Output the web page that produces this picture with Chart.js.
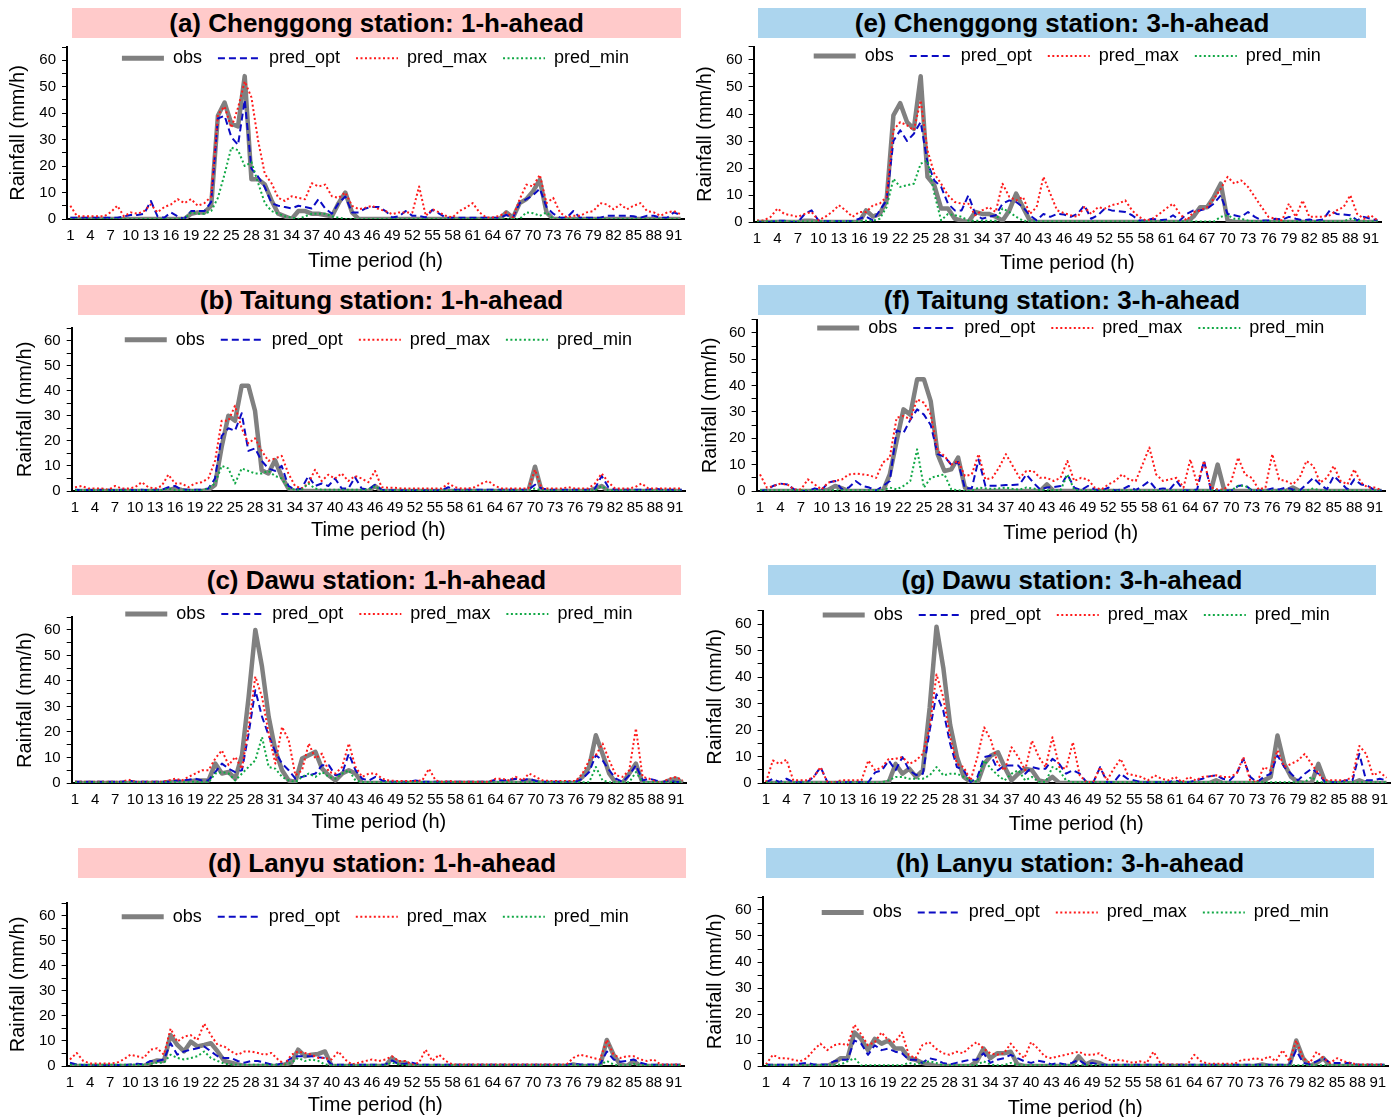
<!DOCTYPE html>
<html>
<head>
<meta charset="utf-8">
<title>Rainfall forecasts</title>
<script src="https://cdn.jsdelivr.net/npm/chart.js@4.4.1/dist/chart.umd.min.js"></script>
<style>
  body { margin: 0; background: #fff; }
  #page { position: relative; width: 1400px; height: 1117px; overflow: hidden; background: #fff; }
  .bar { position: absolute; height: 30px; line-height: 31px; text-align: center; font: bold 26px "Liberation Sans", Arial, sans-serif; color: #000; white-space: nowrap; }
  .pink { background: #ffcaca; }
  .blue { background: #acd5ee; }
  canvas { position: absolute; }
</style>
</head>
<body>
<div id="page">
  <div class="bar pink" style="left:72px;top:8px;width:609px">(a) Chenggong station: 1-h-ahead</div>
  <div class="bar blue" style="left:758px;top:8px;width:608px">(e) Chenggong station: 3-h-ahead</div>
  <div class="bar pink" style="left:78px;top:285px;width:607px">(b) Taitung station: 1-h-ahead</div>
  <div class="bar blue" style="left:758px;top:285px;width:608px">(f) Taitung station: 3-h-ahead</div>
  <div class="bar pink" style="left:72px;top:565px;width:609px">(c) Dawu station: 1-h-ahead</div>
  <div class="bar blue" style="left:768px;top:565px;width:608px">(g) Dawu station: 3-h-ahead</div>
  <div class="bar pink" style="left:78px;top:848px;width:608px">(d) Lanyu station: 1-h-ahead</div>
  <div class="bar blue" style="left:766px;top:848px;width:608px">(h) Lanyu station: 3-h-ahead</div>
  <canvas id="chartA"></canvas>
  <canvas id="chartE"></canvas>
  <canvas id="chartB"></canvas>
  <canvas id="chartF"></canvas>
  <canvas id="chartC"></canvas>
  <canvas id="chartG"></canvas>
  <canvas id="chartD"></canvas>
  <canvas id="chartH"></canvas>
</div>
<script>
// time periods 1..92
const hours = Array.from({length: 92}, (_, i) => String(i + 1));

// (a) Chenggong 1-h-ahead
const obsA = [0,0,0,0,0,0,0,0,0,0, 0,0,0,0,0,0,0,0,2,2.5, 2.5,5,39,44,36,35,54,15,15,13, 7,2,1,0,3,3,2,2,1.5,1,
  6,10,2.5,0,0,0,0,0,0,0, 0,0,0,0,0,0,0,0,0,0, 0,0,0,0,0,2.5,0.5,6,7.5,10.5, 14.8,2.5,0,0,0,0,0,0,0,0, 0,0,0,0,0,0,0,0,0,0, 0,0];
const optA = [0.5,0.5,0.5,0.5,0.5,0.5,0.5,0.5,1,1.5, 1.5,2,6.8,1,0.5,2.5,1,0,3,3, 3,6.5,38,39,31,28,45,19,16,12, 6,5,4.5,4,5,4.5,4,7.5,4,2,
  6,8.5,2.5,2.5,4,4.5,4.5,3,0.6,1, 3,1.2,1.2,0.6,3.5,2,0.5,0.5,0.5,0.5, 0.5,0.5,0.5,0.5,0.5,1.5,0.5,6,7.5,9, 11.5,4.5,2,0.5,0.5,3,0.5,0.5,0.5,0.5, 1.2,1.2,1.2,1.2,1,0.5,1.2,1.2,0.5,0.5, 2.5,1.5];
const maxA = [5,1,1,1,1,1,2.5,5,1,2.5, 2,3,5.5,2.5,4.5,5.5,7.5,6,7.5,5, 6,8.5,39.5,42.5,34.5,42,52,46,29.6,17, 13.5,8,6.8,8.6,8,7.5,13.5,12.3,13,8.6,
  8,10,5,3.7,4.3,5,3.7,3,1.8,2.5, 2.5,2.5,12.3,1.2,3.7,2.5,1.2,0.6,3,4.3, 6,2.5,0.6,0.6,1.2,2.5,0.6,7.5,13,12.3, 16.7,6,8,2.5,0.6,1.2,1.2,2.5,3,6, 5.5,3.7,5.5,3.7,5,6,3,2.5,1.2,2.5, 3,1.8];
const minA = [0,0,0,0,0,0,0,0,0,0, 0,0,0,0,0,0,0,0,2.5,2, 2,3,8,17,27,26,20,21.5,13.6,6, 3,2,1,0.5,0,1,2,2,2,1,
  0.5,0,0,0,0,0,0,0,0,0, 0,0,0,0,0,0,0,0,0,0, 0,0,0,0,0,0,0,0,2.5,2.2, 1.2,2.5,0,0,0,0,0,0,0,0, 0,0,0,0,0,0,0,0,0,0, 0,0];

// (e) Chenggong 3-h-ahead
const obsE = [0,0,0,0,0,0,0,0.5,0.5,0, 0,0,0,0,0,0,4.3,2,3,8, 39.5,44,37,34.5,54,16.7,13.6,5,5,1.2, 0.5,0,3.7,3,3,2,0.5,4.3,10.5,5.5,
  0.6,0,0,0,0,0,0,0,0,0, 0,0,0,0,0,0,0,0,0,0, 0,0,0,0,2,5.5,5.5,9.3,14.2,0.6, 0,0,0,0,0,0,0,0,0,0, 0,0,0,0,0,0,0,0,0,0, 0,0];
const optE = [0,0,0,0.5,0.5,0,0,3,4.3,0.6, 0.3,0.3,0.3,0.3,0.3,1.2,2,0.6,4.3,8, 30,34,30,32.7,37,22,15.4,13,6.8,4.3, 4.3,9.9,3,1.2,1.9,2.5,6.8,8,7.4,5.5,
  2.5,0.6,3,1.9,3,2.8,1.9,3,6.2,1.2, 2.5,5,4.3,4,3.7,2.5,0.6,0.6,1.2,0.6, 0.9,2.5,0.6,3,4.3,4.3,5,6.8,9.9,3, 2.5,1.9,3.7,1.9,0.6,0.6,1.2,0.9,1.9,1.2, 0.6,0.9,0.6,0.9,4.3,3,2.8,2.5,0.6,1.9, 1.2,0.6];
const maxE = [0.6,0.6,1.9,5,3,2.5,1.9,3,3.7,0.6, 1.9,3.7,6.2,4.3,1.9,3.7,3.7,6.2,6.8,9.3, 34,37,35.8,34,45,26.5,17.9,14.2,9.9,7.4, 6.8,6.8,2.5,4.3,5.5,3.7,14.2,9.3,8,9.3,
  3,5.5,16.7,10.5,4.3,3.3,2.5,1.9,5.5,3, 5.5,5,6.2,6.8,8,4.3,1.9,0.6,1.2,3, 5,6.8,3,0.6,3.7,4.3,5.5,8.6,12.3,16.7, 14.2,15.4,13,9.3,5.5,1.9,1.2,0.6,6.8,1.9, 8,1.9,1.9,1.9,2.5,4.3,5.5,9.9,3,1.2, 2.5,0.6];
const minE = [0.2,0.2,0.2,0.2,0.2,0.2,0.2,0.2,0.2,0.2, 0.2,0.2,0.2,0.2,0.2,0.2,0.5,0.5,1.2,5.5, 16,13,13.6,14.2,21.6,22.8,10.5,0.6,3,2.5, 1.9,0.5,0.5,0.5,0.5,0.5,5,3.7,1.9,0.5,
  0.2,0.2,0.2,0.2,0.2,0.2,0.2,0.2,0.2,0.2, 0.2,0.2,0.2,0.2,0.2,0.2,0.2,0.2,0.2,0.2, 0.2,0.2,0.2,0.2,0.2,0.2,0.2,0.2,1.9,2.5, 1.2,1.2,0.5,0.2,0.2,0.2,0.2,0.2,0.2,0.2, 0.2,0.2,0.2,0.2,0.2,0.2,0.2,1.2,0.5,0.2, 0.2,0.2];

// (b) Taitung 1-h-ahead
const obsB = [0,0,0,0,0,0,0,0,0,0, 0,0,0,0,0.4,1,0.4,0,0,0, 0.4,2.4,17.6,30,28,42,42,32,8.3,7, 12.3,5.7,1,0,0,0,0,0,0,0,
  0,0,0,0,0,2,0,0,0,0, 0,0,0,0,0,0,0,0,0,0, 0,0,0,0,0,0,0,0,0,9.7, 0,0,0,0,0,0,0,0,1,2, 0,0,0,0,0,0,0,0,0,0, 0,0];
const optB = [0.5,0.3,0.5,0.3,0.5,0.5,0.3,0.5,0.5,0.3, 0.5,0.3,0.5,0.5,1.5,2,0.5,0.5,0.5,0.5, 1,5,22,25,24,31,16,17,12,9, 8,10,2,0.5,1,6,2,3,2,5,
  1,1,5.5,1,0.5,2.5,0.5,0.3,0.3,0.3, 0.3,0.3,0.3,0.3,0.3,0.3,1.5,0.5,0.5,0.5, 0.5,0.5,0.5,0.5,0.5,0.5,0.5,0.5,0.5,2.5, 1,0.5,0.5,0.5,0.5,0.5,0.5,0.5,1,6, 1.5,0.5,0.5,0.5,0.5,0.5,0.5,1,0.5,0.5, 0.5,0.5];
const maxB = [1.5,2,1,1,1,0.5,2,1,1,1.5, 3.5,1.5,1,2,6.5,3,3,1.5,3,3.5, 5,12,28,28,34,25,19,21,16,12, 13,14,7,2,1,3,8.5,4,6.5,5,
  7,4,6,5,3.5,8,1.5,1.3,1.3,1, 1,1,1,1,1,1,3,1.5,1,1, 1.5,3,4,2,1,1,1,1,1,8.5, 1,1,1,1,1.5,1,1,1,3,7, 3.5,1,1,1,1.5,3,1,1,1,1, 1,1];
const minB = [0.3,0.3,0.3,0.3,0.3,0.3,0.3,0.3,0.3,0.3, 0.3,0.3,0.3,0.3,1,0.3,0.3,0.3,0.3,0.3, 1,3,10,9,3,9,8,7,7,8, 6,5,1,0.5,0.5,3,1,0.5,0.5,0.5,
  0.5,0.5,0.5,0.5,0.5,2,0.2,0.2,0.2,0.2, 0.2,0.2,0.2,0.2,0.2,0.2,0.2,0.2,0.2,0.2, 0.2,0.2,0.2,0.2,0.2,0.2,0.2,0.2,0.2,1, 0.2,0.2,0.2,0.2,0.2,0.2,0.2,0.2,0.2,2, 0.2,0.2,0.2,0.2,0.2,0.2,0.2,0.2,0.2,0.2, 0.2,0.2];

// (f) Taitung 3-h-ahead
const obsF = [0,0,0,0,0,0,0,0,0,0, 0.5,1.9,1,0,0,0,0,0,0,6.3, 19,31,29,42.4,42.4,34,14,7.6,8.2,12.7, 1.3,0,0,0,0,0,0,0,0,0,
  0,0,2.5,0,0,0,0,0,0,0, 0,0,0,0,0,0,0,0,0,0, 0,0,0,0,0,0,0,10,0,0, 0,0,0,0,0,0,0,0,1.3,0, 0,0,0,0,0,0,0,0,0,0, 0,0];
const optF = [0,0.5,2,2.8,2.5,0.6,0,0,1,0.3, 3.2,3.8,0.6,1.3,3.8,1.9,1.3,0.2,1.9,3.8, 23,22,27,31,29,25,14,13,10,11, 1,1,12,1.9,2,2,2.3,2.3,2.5,6.3,
  3.2,0.6,1.3,1.5,1.9,6.3,1.3,0.3,1.9,0.6, 0.2,1.3,0.2,0.6,1.9,0.3,1.9,3.8,0.6,1, 0.6,3.8,0.3,0.2,0.6,11.4,0.6,0.3,0.2,0.2, 1.9,2.3,0.3,0.2,0.2,1,0.6,1.3,0.6,0.2, 2.5,5,2.5,0.6,5.7,3.2,0.6,4.4,2.5,1.9, 0.3,0.2];
const maxF = [6.3,1.3,1.9,2.8,2.5,0.6,0.6,4.4,2.5,0.6, 3.2,3.8,4.4,6.3,6.6,6.3,6,5,10.8,12.7, 27.8,28.5,27.2,34.8,33.5,29,15.2,13.3,10,11.4, 5.7,6.3,14,4.4,5,8.9,14,9.5,5,7.6,
  7.6,5,5,3.8,5,11.4,3.8,5,4.4,1.3, 0.6,2.5,3.8,6.3,4.4,3.8,10,16.5,6.3,3.8, 4.4,5,1.3,12,2.5,11.4,1.3,0.6,0.6,3.8, 12.7,6.3,5,0.6,1.3,14,4.4,3.8,2.5,5, 11.4,9.5,3.2,5,9.5,3.8,2.5,8.2,3.2,1.3, 1.3,0.3];
const minF = [0.3,0.3,0.3,0.3,0.3,0.3,0.3,0.3,0.3,0.3, 0.3,0.3,0.3,0.3,0.3,0.3,0.3,0.3,0.3,1.3, 0.6,1.9,3.8,15.8,1.3,5,5.7,6.3,0.6,0.3, 0,0,1.3,1,0.8,1,1.3,0.8,0.5,1.3,
  1,0.3,0.3,0.3,0.3,6.3,0.5,0.2,0.2,0.2, 0.2,0.2,0.2,0.2,0.2,0.2,0.2,0.2,0.2,0.2, 0.2,0.2,0.2,0.2,0.2,0.2,0.2,0.2,0.2,0.2, 2,2,0.2,0.2,0.2,0.2,0.2,0.2,0.2,0.2, 0.2,1,0.2,0.2,0.2,0.2,0.2,0.2,0.2,0.2, 0.2,0.2];

// (c) Dawu 1-h-ahead
const obsC = [0,0,0,0,0,0,0,0,0,0, 0,0,0,0,0.4,0.4,0.4,0.6,1,1, 1,7.6,3.7,4.3,1.7,10.9,33.8,60,45.6,26, 12.8,5,1,0.4,9.6,10.9,12.2,5.6,3,1,
  3.7,5,3.7,0,0,0,0,0,0,0, 0,0,0,0,0,0,0,0,0,0, 0,0,0,0,0,0.5,0,0,1,0.5, 0,0,0,0,0,0,2.4,6.3,18.7,11.5, 3.7,0,0,3.7,7.6,0,0,0,0,1, 1.7,0];
const optC = [0.5,0.5,0.5,0.5,0.5,0.5,0.5,0.5,1,0.5, 0.5,0.5,0.5,0.5,0.5,1,1,1.3,1.7,1, 1,4.3,7.6,5.6,4.3,5,19.4,36.4,26,18.7, 12.2,7.6,5,1.7,2.4,3,3.7,7,7,3,
  3.7,11.5,5,1.7,1,2.4,1,0.5,0.5,0.5, 0.5,1,0.5,0.5,0.5,0.5,0.5,0.5,0.5,0.5, 0.5,0.5,0.5,1.3,1,1.3,1.7,1,1.7,0.8, 0.5,0.5,0.5,0.5,0.5,0.5,1.7,4.3,10.9,8.9, 5,1.7,0.4,3,7,1,1.7,1,0.4,1, 0.4,0.3];
const maxC = [0.5,0.5,0.5,0.5,0.5,0.5,0.5,0.5,1.3,0.5, 0.5,0.5,0.5,0.5,1,1.7,1,2.4,3.7,5, 5,9.6,12.8,7,10.2,5.6,22,41.7,33.8,19.4, 7.6,22,16.8,3,5,15.5,9.6,11.5,4.3,3.7,
  6.3,15.5,6.3,2.4,3.7,3.7,1.7,1,0.8,0.8, 0.8,0.8,1,5.6,1,0.5,0.8,0.5,0.5,0.5, 0.5,0.5,0.5,1.7,1.7,1,2.4,1,3.7,2.4, 1,0.8,0.8,0.8,0.8,0.8,3.7,8.9,10.9,15.5, 8.9,3,2.4,5,21.4,2.4,1.7,0.4,0.4,1.7, 2.4,1];
const minC = [0.3,0.3,0.3,0.3,0.3,0.3,0.3,0.3,0.3,0.3, 0.3,0.3,0.3,0.3,0.3,0.3,0.3,0.3,0.5,0.3, 0.3,3.7,4.3,3.7,1,3.7,6.3,8.9,18,6.3, 5.6,2.4,1,0.4,2.4,3.7,2.4,4.3,2.4,1.7,
  3.7,5,1,0.3,0.3,0.3,0.3,0.3,0.3,0.3, 0.3,0.3,0.3,0.3,0.3,0.3,0.3,0.3,0.3,0.3, 0.3,0.3,0.3,0.3,0.3,0.3,0.3,0.3,0.3,0.3, 0.3,0.3,0.3,0.3,0.3,0.3,0.3,0.3,6.3,1, 0.3,0.3,0.3,0.3,4.3,0.3,0.3,0.3,0.3,0.3, 0.3,0.3];

// (g) Dawu 3-h-ahead
const obsG = [0,0,0,0,0,0,0,0,0,0, 0,0,0,0,0,0,0,0,0.4,7.2, 3.5,5.4,2.3,4.8,28.5,59,43.5,22,9.8,2.3, 0.4,0,7.2,10.4,11.6,6,1,3.5,5.4,4.8,
  1,0.4,2.3,0,0,0,0,0,0,0, 0,0,0,0,0,0,0,0,0,0, 0,0,0,0,0,0,1,0,0,0, 0,0,0,1,2.3,17.9,7.2,2.3,0.4,0, 0,7.2,0.4,0,0,0,0,1,0,0, 0,0];
const optG = [0.3,1.6,0.3,1.6,0.3,0.3,0.3,2.3,6,0.3, 0.3,0.3,0.3,0.3,0.3,0.3,4,4.8,8.5,4.8, 9.8,4.8,3,3.5,19.8,33.5,27.3,14.8,6,4.8, 0.3,2.3,9.8,10.4,4.8,6.6,6.6,6.6,3.5,6,
  5.4,5.4,9.1,7.2,3.5,4.8,3.5,0.3,0.3,6, 0.3,0.3,3.5,1.6,1,0.3,0.3,0.3,0.3,0.3, 1,0.3,0.3,1,1.6,2.5,2.9,1.6,1,3.5, 9.1,2.3,0.3,2.3,3.5,10.4,6,3.5,1,3.5, 5.4,3.5,0.3,0.3,0.3,1,1,11,1,1, 1.6,1];
const maxG = [0.3,8.5,7.2,8.8,1,1,1,2.3,6,0.3, 0.3,1,1,1,1,8.5,4.8,6,9.1,9.1, 9.8,7.2,8.5,11,21,41,32.3,17.3,7.2,6, 1,9.8,21,16,7.2,4.8,13.5,9.8,4.8,16,
  9.8,6,17.3,6,5.4,15.4,2.9,0.3,0.3,6, 1,5.4,9.1,3.5,2.9,2.3,1,2.9,1.6,1, 2.3,0.3,2.3,1,2.3,2.5,2.9,2.3,2.3,3.5, 9.8,1,0.3,6,4.8,12.3,6,7.2,8.5,11, 7.2,3.5,1,1,1,1,2.3,14,11,2.9, 4.1,2];
const minG = [0.2,0.2,0.2,0.2,0.2,0.2,0.2,0.2,0.2,0.2, 0.2,0.2,0.2,0.2,0.2,0.2,0.2,0.2,1,2.3, 2.3,1.6,1.6,1.6,2.9,6,2.9,3.5,3.5,2.3, 1,0.4,8.5,5.4,2.9,1,3.5,4.8,1,2.3,
  0.4,0.4,6,4.8,1,0.3,0.3,0.3,0.3,0.3, 0.3,0.3,0.3,0.3,0.3,0.3,0.3,0.3,0.3,0.3, 0.3,0.3,0.3,0.3,0.3,0.3,0.3,0.3,0.3,0.3, 0.3,0.3,0.3,0.3,0.3,0.3,0.3,0.3,0.3,0.3, 2.3,0.3,0.3,0.3,0.3,0.3,0.3,0.3,0.3,0.3, 0.3,0.3];

// (d) Lanyu 1-h-ahead
const obsD = [0,0,0,0,0,0,0,0,0,0, 0,0,1.3,2.2,2,12.3,8.4,5.8,9.7,7.8, 8.4,9.1,5.8,2,1.3,0.6,0,0,0,0, 0,0,0.6,1.3,6.5,3.9,4.5,4.8,5.8,0,
  0,0,0,0,0,0,0,0,3.2,1.3, 1.3,0,0,0,0,0,0,0,0,0, 0,0,0,0,0,0,0,0,0,0, 0,0,0,0,0,0.6,0,0,0,0, 10.4,4.5,0.6,0,2,0,0,0,0,0, 0,0];
const optD = [1.3,0.6,0.4,0.4,0.4,0.4,0.4,0.4,0.4,0.6, 0.9,0.6,2,2,2.6,9.1,4.5,5.8,6.5,7.1, 7.8,5.8,3.9,3.2,3.2,2,1.3,2,2,1.3, 0.6,0.6,1.3,3.2,3.9,3.9,3.9,3.5,3.2,0.6,
  0.5,0.5,0.5,0.5,0.5,0.5,0.5,0.6,2.2,0.6, 0.9,1.3,0.6,0.5,0.5,0.5,0.5,0.5,0.5,0.5, 0.5,0.5,0.5,0.5,0.5,0.5,0.5,0.5,0.5,0.5, 0.5,0.5,0.5,0.5,0.5,0.9,0.6,0.6,0.6,0.6, 5.8,2.6,1.7,2,2.6,1.3,0.6,0.5,0.5,0.5, 0.5,0.5];
const maxD = [2.6,5.2,2,1,1,1,1,1.3,2.6,4.5, 3.9,3.2,6.5,7.1,4.5,14.9,9.7,11.7,12.3,10.4, 16.9,12.3,8.4,7.8,5.8,4.5,5.8,5.8,5.2,4.5, 5.2,2.6,0.6,4.5,5.8,5.2,4.5,3.2,3.2,2.6,
  5.8,2.6,0.6,1.3,2,2.6,2,2.6,3.9,2, 2,0.6,1.3,6.5,2,4.5,2,0.6,0.6,0.6, 0.6,0.6,0.6,0.6,0.6,0.6,0.6,0.6,0.6,0.6, 0.6,0.6,0.6,0.6,0.6,3.2,4.5,3.9,3.2,2.6, 10.4,4.5,3.2,3.9,3.9,2.6,2,2.6,0.6,0.6, 0.6,0.6];
const minD = [0.5,0.5,0.5,0.5,0.5,0.5,0.5,0.5,0.5,0.5, 0.5,0.5,0.9,1.3,1.3,4.5,3.2,2.6,3.2,3.9, 5.8,3.2,2,0.9,0.6,0.5,0.5,0.5,0.5,0.5, 0.5,0.5,0.5,1.3,3.2,2,2.6,2,0.6,0.3,
  0.3,0.3,0.3,0.3,0.3,0.3,0.3,0.3,1.3,0.6, 0.3,0.3,0.3,0.3,0.3,0.3,0.3,0.3,0.3,0.3, 0.3,0.3,0.3,0.3,0.3,0.3,0.3,0.3,0.3,0.3, 0.3,0.3,0.3,0.3,0.3,0.3,0.3,0.3,0.3,0.3, 2,0.6,0.3,0.3,0.8,0.3,0.3,0.3,0.3,0.3, 0.3,0.3];

// (h) Lanyu 3-h-ahead
const obsH = [0,0,0,0,0,0,0,0,0,0, 1.2,3,3,12.9,10.4,6.1,10.4,8.6,9.8,6.7, 6.7,3,2.4,1.2,0.6,0,0,0,0,0, 0,1.8,6.7,3,4.9,4.9,5.5,0.6,0,0,
  0,0,0,0,0,0,3.7,0.6,1.8,1.2, 0,0,0,0,0,0,0,0,0,0, 0,0,0,0,0,0,0,0,0,0, 0,0,0,0.6,0,0,0,0,9.8,3, 0,1.2,3,0,0,0,0,0,0,0, 0,0];
const optH = [0.5,0.5,0.5,0.5,0.5,0.9,1.2,0.6,0.6,0.6, 1.8,2.4,2.4,9.8,8.6,4.3,8,6.1,6.7,5.5, 4.9,2.4,2.4,1.2,3,2.4,1.2,0.6,1.2,1.8, 2.4,2.4,4.9,1.2,2.4,3,4.3,3,1.8,1.2,
  2,1.5,0.6,1.2,0.6,1.2,2.4,0.6,1.2,0.5, 0.5,0.5,0.5,0.5,0.5,0.5,0.5,0.5,0.5,0.5, 0.5,0.5,0.5,0.5,0.5,0.5,0.5,0.5,0.5,0.5, 0.5,0.5,0.5,0.5,0.5,0.5,0.5,0.5,6.1,1.2, 0.6,1.8,3,1.2,1.2,1.2,1.2,0.5,0.5,0.5, 0.5,0.5];
const maxH = [0.6,4.3,3,3,2.4,1.8,3,6.1,8.6,6.1, 8,8.6,8,15.9,12.2,8,9.2,12.9,9.8,9.2, 12.9,4.3,3,8,9.2,6.7,4.9,4.3,5.5,4.9, 7.3,9.2,6.7,4.9,4.3,4.9,8.6,5.5,3,9.2,
  6.7,3.7,3,3.7,4.3,4.9,5.5,4.3,4.3,4.9, 3,1.8,2.4,1.8,1.2,1.8,1.2,5.5,1.2,0.6, 0.6,0.6,0.6,4.3,1.8,0.9,0.9,0.9,0.9,0.9, 2.4,2.4,3,2.4,3.7,1.8,6.1,1.8,9.8,3, 1.2,5.5,3,1.2,3,1.8,1.2,0.6,0.6,0.6, 0.6,0.6];
const minH = [0.3,0.3,0.3,0.3,0.3,0.3,0.3,0.3,0.3,0.3, 0.3,0.6,1.8,3,0.2,0.3,0.3,0.3,0.3,0.3, 0.3,1.2,0.6,1.2,1.8,1.2,0.3,0.3,0.3,0.3, 0.3,0.3,1.8,0.6,0.3,0.3,1.2,0.3,0.3,0.3,
  0.3,0.3,0.3,0.3,0.3,0.3,0.3,0.3,0.3,0.3, 0.3,0.3,0.3,0.3,0.3,0.3,0.3,0.3,0.3,0.3, 0.3,0.3,0.3,0.3,0.3,0.3,0.3,0.3,0.3,0.3, 0.3,0.3,0.3,0.3,0.3,0.3,0.3,0.3,0.3,0.3, 0.3,0.3,0.3,0.3,0.3,0.3,0.3,0.3,0.3,0.3, 0.3,0.3];

const seriesNames = ['obs', 'pred_opt', 'pred_max', 'pred_min'];
const yTickValues = [0, 10, 20, 30, 40, 50, 60];

// line look of each series
const seriesStyle = [
  {color: '#808080', width: 4.5, dash: [], order: 3},
  {color: '#0b0bc4', width: 2, dash: [7, 4], order: 2},
  {color: '#ff1a1a', width: 2, dash: [2, 2.5], order: 1},
  {color: '#10a845', width: 2, dash: [2, 2.5], order: 0}
];

// where each panel's plot sits on the page
const panels = [
  {id: 'chartA', data: [obsA, optA, maxA, minA], left: 67, right: 684, top: 45.7, bottom: 219, legendY: 57, yTitleX: 18, xTitleY: 261},
  {id: 'chartE', data: [obsE, optE, maxE, minE], left: 753.6, right: 1381, top: 46.5, bottom: 222, legendY: 56, yTitleX: 705, xTitleY: 263},
  {id: 'chartB', data: [obsB, optB, maxB, minB], left: 71.7, right: 685, top: 326.3, bottom: 491, legendY: 338, yTitleX: 25, xTitleY: 530},
  {id: 'chartF', data: [obsF, optF, maxF, minF], left: 756.6, right: 1385, top: 319.8, bottom: 491, legendY: 328, yTitleX: 710, xTitleY: 533},
  {id: 'chartC', data: [obsC, optC, maxC, minC], left: 71.7, right: 686, top: 617.2, bottom: 783, legendY: 614, yTitleX: 25, xTitleY: 822},
  {id: 'chartG', data: [obsG, optG, maxG, minG], left: 762.6, right: 1390, top: 610.8, bottom: 783, legendY: 615, yTitleX: 715, xTitleY: 824},
  {id: 'chartD', data: [obsD, optD, maxD, minD], left: 66.6, right: 684, top: 899.2, bottom: 1066, legendY: 913, yTitleX: 18, xTitleY: 1105},
  {id: 'chartH', data: [obsH, optH, maxH, minH], left: 762.6, right: 1388, top: 891.6, bottom: 1066, legendY: 910, yTitleX: 715, xTitleY: 1108}
];

Chart.defaults.font.family = '"Liberation Sans", Arial, sans-serif';
Chart.defaults.color = '#000';

// the legend only reserves a thin strip in the layout; let it draw down over the plot
const legendOverlap = {
  id: 'legendOverlap',
  afterLayout(chart) {
    const lg = chart.legend;
    if (!lg) return;
    lg.height = 60;
    lg.bottom = lg.top + 60;
  }
};

function buildChart(p) {
  const legendPad = 16;
  const legendH = Math.max(9.5, p.top + legendPad + 9 - p.legendY);
  const cLeft = Math.round(p.yTitleX - 13);
  const cTop = Math.round(p.top - legendH);
  const yWidth = p.left - cLeft;
  const xHeight = p.xTitleY - p.bottom + 12;

  const canvas = document.getElementById(p.id);
  canvas.width = Math.round(p.right + 6 - cLeft);
  canvas.height = Math.round(p.bottom + xHeight - cTop);
  canvas.style.left = cLeft + 'px';
  canvas.style.top = cTop + 'px';

  const datasets = p.data.map((values, i) => ({
    label: seriesNames[i],
    data: values,
    borderColor: seriesStyle[i].color,
    backgroundColor: seriesStyle[i].color,
    borderWidth: seriesStyle[i].width,
    borderDash: seriesStyle[i].dash,
    borderCapStyle: 'butt',
    borderJoinStyle: 'round',
    order: seriesStyle[i].order,
    pointRadius: 0,
    tension: 0,
    fill: false
  }));

  new Chart(canvas, {
    type: 'line',
    data: {labels: hours, datasets: datasets},
    plugins: [legendOverlap],
    options: {
      responsive: false,
      animation: false,
      devicePixelRatio: 1,
      layout: {padding: {top: 0, left: 0, right: 6, bottom: 0}},
      plugins: {
        tooltip: {enabled: false},
        legend: {
          position: 'top',
          fullSize: false,
          maxHeight: legendH,
          labels: {
            font: {size: 18},
            color: '#000',
            padding: legendPad,
            usePointStyle: true,
            pointStyleWidth: 42,
            generateLabels: chart => chart.data.datasets.map((ds, i) => ({
              text: ds.label,
              strokeStyle: ds.borderColor,
              fillStyle: ds.borderColor,
              lineWidth: i === 0 ? 5 : 2,
              lineDash: ds.borderDash,
              lineCap: 'butt',
              pointStyle: 'line',
              hidden: false,
              datasetIndex: i
            }))
          }
        }
      },
      scales: {
        x: {
          offset: true,
          grid: {display: false, drawTicks: false},
          border: {display: true, color: '#000', width: 2},
          ticks: {
            autoSkip: false,
            maxRotation: 0,
            minRotation: 0,
            padding: 8,
            font: {size: 15},
            callback: function (v, i) { return i % 3 === 0 ? this.getLabelForValue(v) : ''; }
          },
          title: {display: true, text: 'Time period (h)', font: {size: 20}, padding: {top: 0, bottom: 0}},
          afterFit: s => { s.height = xHeight; }
        },
        y: {
          min: 0,
          max: 65,
          grid: {drawOnChartArea: false, drawTicks: true, tickLength: 5, color: '#000', lineWidth: 1},
          border: {display: true, color: '#000', width: 2},
          ticks: {
            stepSize: 5,
            autoSkip: false,
            padding: 6,
            font: {size: 15},
            callback: v => yTickValues.includes(v) ? v : ''
          },
          title: {display: true, text: 'Rainfall (mm/h)', font: {size: 20}, padding: {top: 1, bottom: 0}},
          afterFit: s => { s.width = yWidth; }
        }
      }
    }
  });
}

panels.forEach(buildChart);
</script>
</body>
</html>
